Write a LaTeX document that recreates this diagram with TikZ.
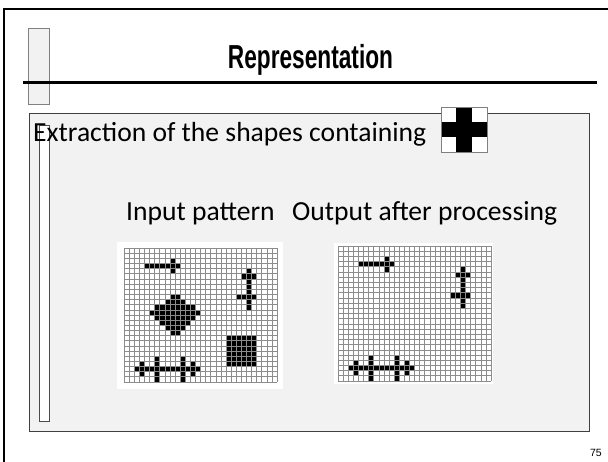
\documentclass[tikz,border=0pt]{standalone}
\usepackage{graphicx}
\usepackage{fontspec}
\setmainfont{Carlito}
\newfontfamily\headfont{Liberation Sans}
\newfontfamily\numfont{Liberation Sans}
\definecolor{boxgray}{HTML}{F2F2F2}
\definecolor{gridc}{HTML}{8C8C8C}
\tikzset{
  frameline/.style={line width=1.6pt,black},
  rulebar/.style={line width=3pt,black},
  sidebox/.style={fill=boxgray,draw=gray,line width=0.8pt},
  thinbar/.style={fill=white,draw=black!70,line width=0.8pt},
  contentbox/.style={fill=boxgray,draw=black!75,line width=1pt},
  txt/.style={anchor=base west,inner sep=0pt,font=\fontsize{27.6}{31}\selectfont},
  gridline/.style={gridc,line width=0.55pt},
  imgbg/.style={fill=white,draw=none},
}
\def\commoncells{4/3,5/3,6/3,7/3,8/3,9/3,10/3,9/2,9/4,
  24/4,24/5,24/6,24/7,24/8,24/9,24/10,24/11,23/5,25/5,22/9,23/9,25/9,
  2/23,3/23,4/23,5/23,6/23,7/23,8/23,9/23,10/23,11/23,12/23,13/23,14/23,
  3/22,3/24,13/22,13/24,6/21,6/22,6/24,6/25,11/21,11/22,11/24,11/25}
\def\extracells{9/9,10/9,8/10,9/10,10/10,11/10,
  6/11,7/11,8/11,9/11,10/11,11/11,12/11,13/11,
  5/12,6/12,7/12,8/12,9/12,10/12,11/12,12/12,13/12,14/12,
  6/13,7/13,8/13,9/13,10/13,11/13,12/13,13/13,
  7/14,8/14,9/14,10/14,11/14,12/14,
  8/15,9/15,10/15,11/15,9/16,10/16,
  20/17,21/17,22/17,23/17,24/17,25/17,
  20/18,21/18,22/18,23/18,24/18,25/18,
  20/19,21/19,22/19,23/19,24/19,25/19,
  20/20,21/20,22/20,23/20,24/20,25/20,
  20/21,21/21,22/21,23/21,24/21,25/21,
  20/22,21/22,22/22,23/22,24/22,25/22}
\begin{document}
\begin{tikzpicture}[x=1pt,y=-1pt]
\useasboundingbox (0,0) rectangle (608,462);
\fill[white] (0,0) rectangle (608,462);
% page frame
\draw[frameline] (4,462) -- (4,9) -- (608,9);
% side box near title
\draw[sidebox] (28,28) rectangle (49,104);
% title
\node[inner sep=0pt,anchor=base] (title) at (310.5,69)
  {\resizebox*{165pt}{31pt}{\headfont\bfseries Representation}};
\coordinate (rl) at (23,83);
\coordinate (rr) at (597,83);
\draw[rulebar] (rl) -- (rr);
% content box
\draw[contentbox] (29,114) rectangle (589,431);
\draw[thinbar] (39,125) rectangle (49,421);
% text
\node[txt] (ext) at (33,142) {Extraction of the shapes containing};
\node[txt] (inp) at (126,221) {Input pattern};
\node[txt] (outp) at (292,221) {Output after processing};
% cross template icon
\begin{scope}[shift={(441pt,-107pt)},x=15.33pt,y=-15pt]
  \fill[white] (0,0) rectangle (3,3);
  \fill[black] (1,0) rectangle (2,3);
  \fill[black] (0,1) rectangle (3,2);
  \draw[gray,line width=0.8pt] (0,0) rectangle (3,3);
\end{scope}
% input pattern
\fill[imgbg] (117,242) rectangle (283,389);
\begin{scope}[shift={(124pt,-248pt)},x=5.1pt,y=-5.15pt]
  \fill[white] (0,0) rectangle (30,26);
  \foreach \c/\r in \commoncells {\fill[black] (\c,\r) rectangle ++(1,1);}
  \foreach \c/\r in \extracells {\fill[black] (\c,\r) rectangle ++(1,1);}
  \foreach \i in {0,...,30} {\draw[gridline] (\i,0) -- (\i,26);}
  \foreach \j in {0,...,26} {\draw[gridline] (0,\j) -- (30,\j);}
\end{scope}
% output pattern
\fill[imgbg] (334,243) rectangle (493,384);
\begin{scope}[shift={(338pt,-246pt)},x=5.1pt,y=-5.19pt]
  \fill[white] (0,0) rectangle (30,26);
  \foreach \c/\r in \commoncells {\fill[black] (\c,\r) rectangle ++(1,1);}
  \foreach \i in {0,...,30} {\draw[gridline] (\i,0) -- (\i,26);}
  \foreach \j in {0,...,26} {\draw[gridline] (0,\j) -- (30,\j);}
\end{scope}
% page number
\node[anchor=base east,inner sep=0pt,font=\numfont\fontsize{10.5}{12}\selectfont] (pnum) at (602,456) {75};
\end{tikzpicture}
\end{document}
